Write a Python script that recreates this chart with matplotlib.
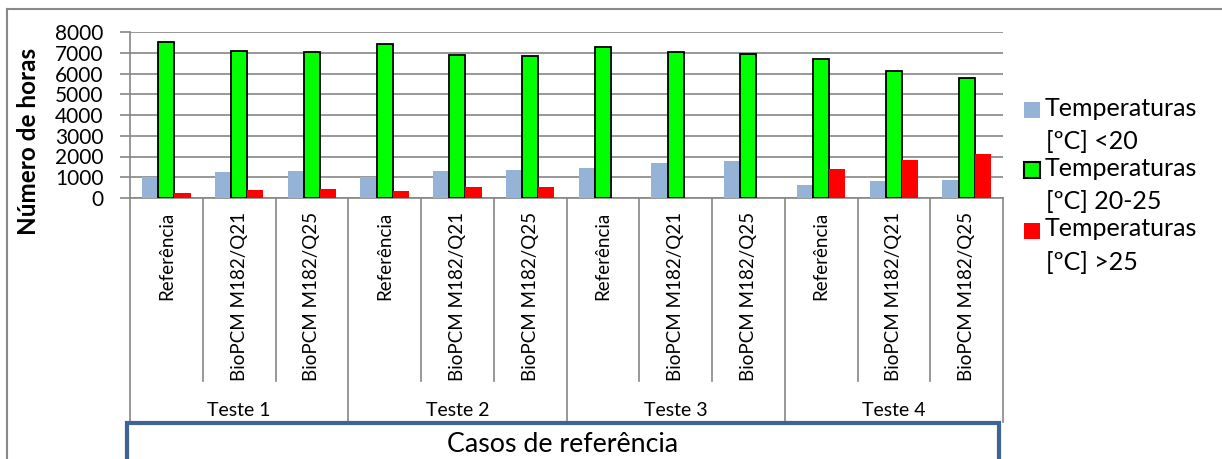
import numpy as np
import matplotlib
matplotlib.use("Agg")
import matplotlib.pyplot as plt
from matplotlib.patches import Rectangle
from matplotlib.lines import Line2D
from matplotlib.transforms import blended_transform_factory

plt.rcParams['font.family'] = ['Lato', 'DejaVu Sans']

# ── DATA ─────────────────────────────────────────────────
casos = ['Referência', 'BioPCM M182/Q21', 'BioPCM M182/Q25'] * 4
testes = ['Teste 1', 'Teste 2', 'Teste 3', 'Teste 4']
abaixo_20 = [1000, 1250, 1300, 1000, 1300, 1350, 1450, 1700, 1800, 650, 800, 850]
entre_20_25 = [7500, 7100, 7050, 7400, 6900, 6850, 7280, 7050, 6950, 6700, 6100, 5800]
acima_25 = [250, 400, 420, 350, 530, 550, 0, 5, 0, 1380, 1850, 2100]
series_labels = ['Temperaturas\n[ºC] <20', 'Temperaturas\n[ºC] 20-25', 'Temperaturas\n[ºC] >25']
y_ticks = [0, 1000, 2000, 3000, 4000, 5000, 6000, 7000, 8000]

azul, verde, vermelho = '#95B3D7', '#00FF00', '#FF0000'
cinza = '#868686'

# ── FIGURE / AXES (pixel layout) ─────────────────────────
W, H = 1222, 459
fig = plt.figure(figsize=(W / 100, H / 100), dpi=100)
ax_left, ax_right, ax_top, ax_bottom = 130, 1003, 32, 198
ax = fig.add_axes([ax_left / W, 1 - ax_bottom / H,
                   (ax_right - ax_left) / W, (ax_bottom - ax_top) / H])

def yfrac(ypx):
    # pixel row -> axes fraction
    return (ax_bottom - ypx) / (ax_bottom - ax_top)

x = np.arange(len(casos))
w = 1 / 4.5
ax.bar(x - w, abaixo_20, w, color=azul, zorder=3)
ax.bar(x, entre_20_25, w, color=verde, edgecolor='black', linewidth=1.3, zorder=3)
ax.bar(x + w, acima_25, w, color=vermelho, zorder=3)

ax.set_xlim(-0.5, len(casos) - 0.5)
ax.set_ylim(0, 8000)
ax.set_yticks(y_ticks)
ax.set_xticks([])
ax.yaxis.grid(True, color=cinza, linewidth=1.2)
ax.set_axisbelow(True)
for s in ['top', 'right']:
    ax.spines[s].set_visible(False)
for s in ['left', 'bottom']:
    ax.spines[s].set_color(cinza)
    ax.spines[s].set_linewidth(1.2)
ax.tick_params(axis='y', length=7, color=cinza, width=1.2, labelsize=15, pad=12)

# ── MULTI-LEVEL CATEGORY AXIS ────────────────────────────
trans = blended_transform_factory(ax.transData, ax.transAxes)
for k in range(len(casos) + 1):
    b = k - 0.5
    end = yfrac(422) if k % 3 == 0 else yfrac(381)
    ax.plot([b, b], [0, end], color=cinza, lw=1.2, transform=trans, clip_on=False)

for i, c in enumerate(casos):
    ax.text(i, yfrac(212), c, rotation=90, ha='center', va='top',
            fontsize=13.5, transform=trans)
for g, t in enumerate(testes):
    ax.text(3 * g + 1, yfrac(410), t, ha='center', va='center',
            fontsize=14, transform=trans)

fig.text(29 / W, 1 - 141 / H, 'Número de horas', rotation=90, ha='center', va='center',
         fontsize=17.5, fontweight='bold')

# ── "Casos de referência" box ────────────────────────────
fig.add_artist(Rectangle((127 / W, -10 / H), (999 - 127) / W, (459 - 423 + 10) / H,
                         transform=fig.transFigure, fill=False,
                         edgecolor='#3C6496', linewidth=3))
fig.text(563 / W, 1 - 444 / H, 'Casos de referência', ha='center', va='center',
         fontsize=19.3)

# ── outer chart frame ────────────────────────────────────
fig.add_artist(Line2D([7 / W, 7 / W], [0, 1 - 9 / H], transform=fig.transFigure,
                      color='#898989', lw=1.5))
fig.add_artist(Line2D([7 / W, 1], [1 - 9 / H, 1 - 9 / H], transform=fig.transFigure,
                      color='#898989', lw=1.5))

# ── LEGEND ───────────────────────────────────────────────
cores = [azul, verde, vermelho]
bordas = [None, 'black', None]
sq_tops = [102, 162, 223]
for cor, borda, top, lab in zip(cores, bordas, sq_tops, series_labels):
    fig.add_artist(Rectangle((1024 / W, 1 - (top + 16) / H), 16 / W, 16 / H,
                             transform=fig.transFigure, facecolor=cor,
                             edgecolor=borda if borda else cor,
                             linewidth=1.5 if borda else 0))
    l1, l2 = lab.split('\n')
    fig.text(1045 / W, 1 - (top + 6) / H, l1, ha='left', va='center', fontsize=18)
    fig.text(1046 / W, 1 - (top + 40) / H, l2, ha='left', va='center', fontsize=18)

fig.savefig('out.png', dpi=100)
